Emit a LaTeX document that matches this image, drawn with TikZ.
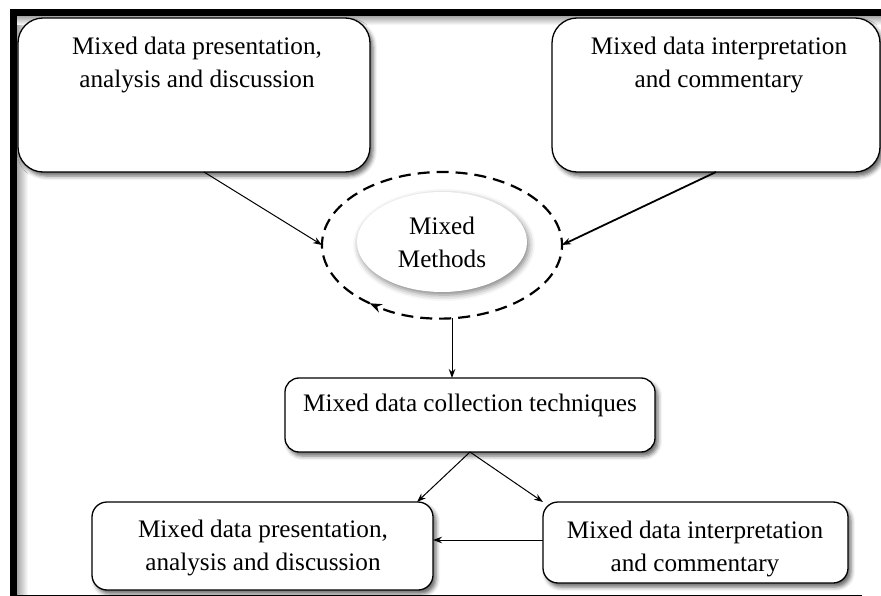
\documentclass[tikz,border=0pt]{standalone}
\usepackage{fontspec}
\setmainfont{Liberation Serif}
\usetikzlibrary{shapes.geometric,arrows.meta,shadows.blur}
\begin{document}
\begin{tikzpicture}[x=1pt,y=-1pt,
  box/.style={draw=black, line width=1.3pt, fill=white, rounded corners=#1,
    blur shadow={shadow xshift=3pt, shadow yshift=-4pt, shadow blur radius=4pt, shadow opacity=60},
    inner sep=0pt, outer sep=0pt},
  box/.default=15pt,
  txt/.style={font=\fontsize{25.2}{33}\selectfont, align=center, inner sep=0pt},
  conn/.style={line width=1pt, -{Stealth[length=9pt,width=6.5pt]}},
  ring/.style={dash pattern=on 12pt off 7pt, line width=2.2pt, -{Stealth[length=12pt,width=9pt]}}
]
\useasboundingbox (0,0) rectangle (881,596);
% frame
\fill[left color=gray!70, right color=white] (17,16) rectangle (28,596);
\fill[top color=gray!70, bottom color=white] (17,16) rectangle (881,25);
\fill[black] (10,9) rectangle (881,16);
\fill[black] (10,9) rectangle (17,596);
\draw[line width=1pt] (10,595) -- (862,595);
% boxes
\node[box=25pt, minimum width=352pt, minimum height=154pt] (tlbox) at (194,95) {};
\node[box=25pt, minimum width=328pt, minimum height=154pt] (trbox) at (716,95) {};
\node[box=14pt, minimum width=370pt, minimum height=74pt] (collbox) at (470,415) {};
\node[box=15pt, minimum width=341pt, minimum height=88pt] (blbox) at (262.5,546) {};
\node[box=15pt, minimum width=305pt, minimum height=81pt] (brbox) at (695.5,542.5) {};
% texts
\node[txt] (tltext) at (197,65) {Mixed data presentation,\\analysis and discussion};
\node[txt] (trtext) at (719,65) {Mixed data interpretation\\and commentary};
\node[txt] (colltext) at (470,405) {Mixed data collection techniques};
\node[txt] (bltext) at (263,547.5) {Mixed data presentation,\\analysis and discussion};
\node[txt] (brtext) at (695,548.5) {Mixed data interpretation\\and commentary};
% mixed methods
\node[ellipse, minimum width=240pt, minimum height=146pt, inner sep=0pt, outer sep=0pt] (mmring) at (442,245) {};
\node[ellipse, fill=white, minimum width=170pt, minimum height=100pt,
  blur shadow={shadow xshift=2pt, shadow yshift=-3pt, shadow blur radius=6pt, shadow opacity=50},
  txt] (mm) at (442,242) {Mixed\\Methods};
\draw[ring] (mmring.center) ++(-233:120 and 73) arc[start angle=-233, end angle=127, x radius=120, y radius=73];
% connectors
\draw[conn] ([xshift=10pt]tlbox.south) -- (mmring.west);
\draw[conn, line width=1.8pt] (trbox.south) -- (mmring.east);
\draw[conn] ([xshift=10pt]mmring.south) -- ([xshift=10pt]mmring.south |- collbox.north);
\draw[conn] (collbox.south) -- ([xshift=-16pt]blbox.north east);
\draw[conn] (collbox.south) -- (brbox.north west);
\draw[conn] ([yshift=2.5pt]brbox.west) -- ([yshift=2.5pt]brbox.west -| blbox.east);
\end{tikzpicture}
\end{document}
